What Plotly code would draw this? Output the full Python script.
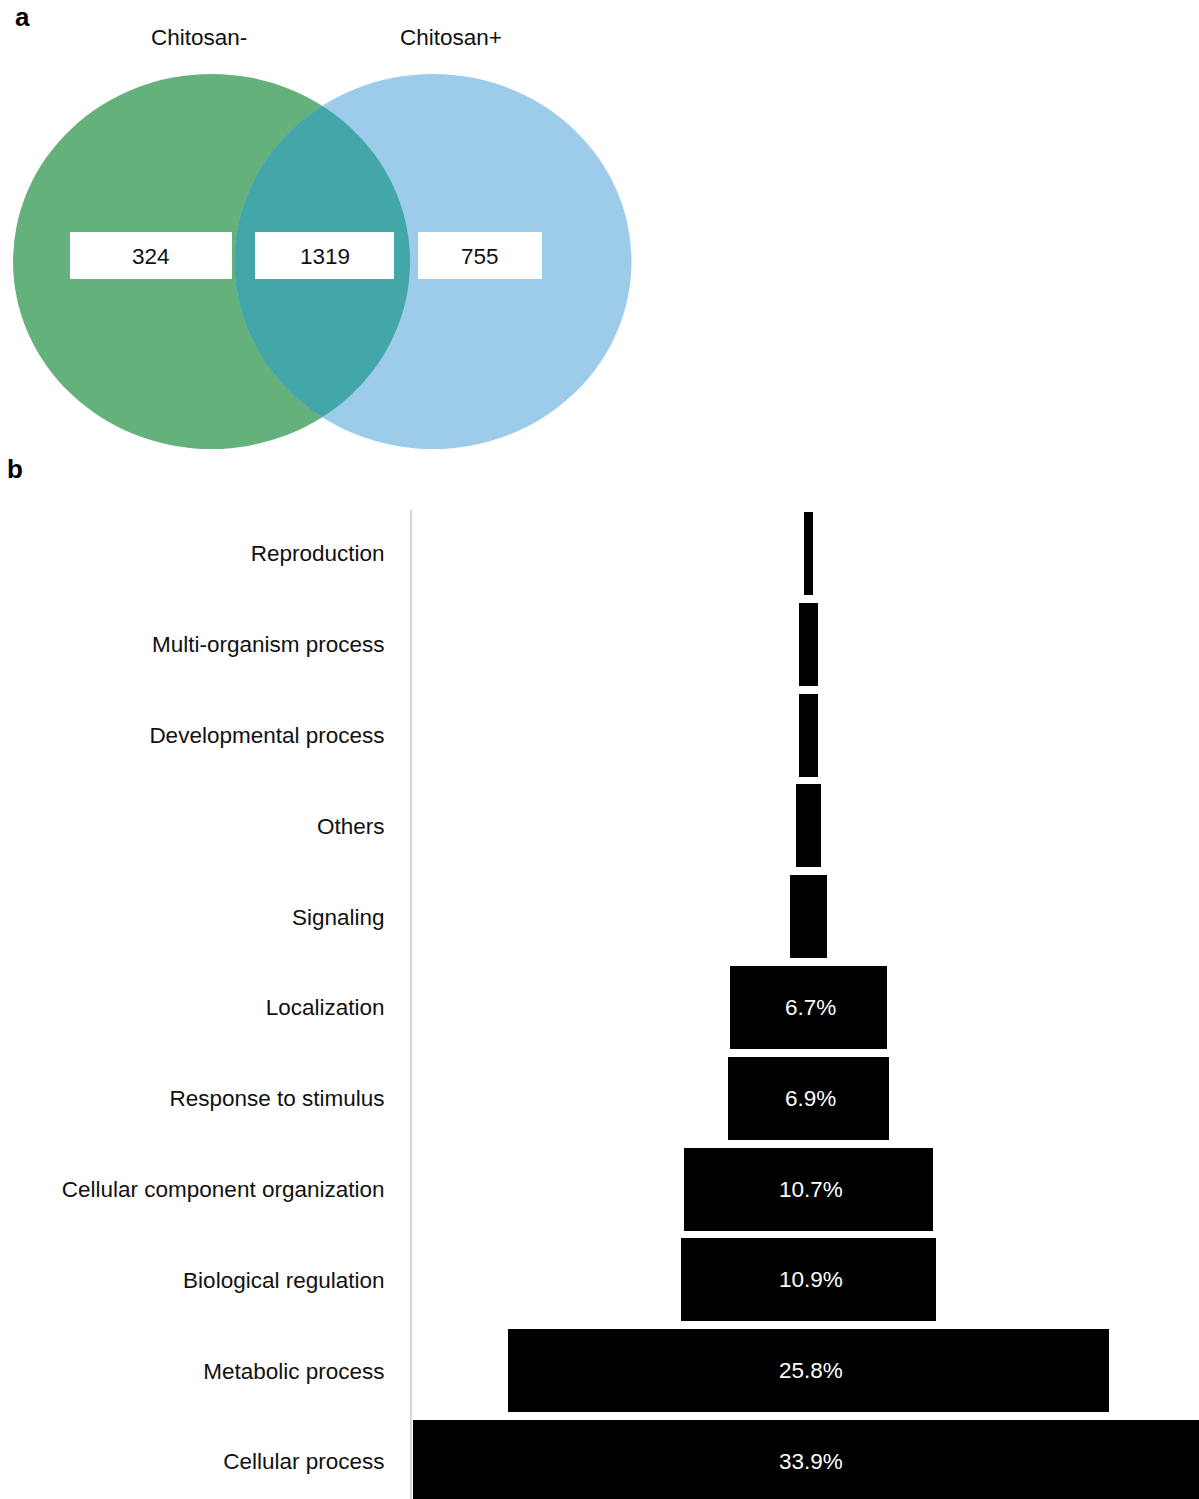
import numpy as np
import plotly.graph_objects as go

# ---- Panel a: Venn counts ----
set_names = ["Chitosan-", "Chitosan+"]
venn_counts = [324, 1319, 755]  # only Chitosan-, shared, only Chitosan+

# ---- Panel b: GO biological process distribution (%) ----
categories = [
    "Reproduction",
    "Multi-organism process",
    "Developmental process",
    "Others",
    "Signaling",
    "Localization",
    "Response to stimulus",
    "Cellular component organization",
    "Biological regulation",
    "Metabolic process",
    "Cellular process",
]
percent = [0.37, 0.8, 0.8, 1.1, 1.6, 6.7, 6.9, 10.7, 10.9, 25.8, 33.9]
label_min = 5.0  # bars at or above this share get a value label

W, H = 1199, 1499
FONT = "Liberation Sans, Arial, Helvetica, sans-serif"
FS = 22.5
GREEN, BLUE, TEAL = "#64b17b", "#9dcbea", "#43a6a9"

fig = go.Figure()

# centred (funnel-style) horizontal bars
fig.add_trace(go.Bar(
    y=categories,
    x=percent,
    base=[-v / 2 for v in percent],
    orientation="h",
    width=0.914,
    marker=dict(color="#000000", line=dict(width=0)),
    hoverinfo="skip",
    showlegend=False,
    xaxis="x", yaxis="y",
))

annotations = []
for cat, v in zip(categories, percent):
    if v >= label_min:
        annotations.append(dict(
            x=0.1, y=cat, xref="x", yref="y", text=f"{v}%", showarrow=False,
            font=dict(family=FONT, size=FS, color="#ffffff"),
            xanchor="center", yanchor="middle",
        ))

# ---- Venn geometry (pixel-space overlay axis) ----
cy, rx, ry = 261.5, 198.5, 187.5
cx_left, cx_right = 211.5, 433.0

shapes = [
    dict(type="circle", xref="x2", yref="y2", x0=cx_left - rx, x1=cx_left + rx,
         y0=cy - ry, y1=cy + ry, fillcolor=GREEN, line=dict(width=0)),
    dict(type="circle", xref="x2", yref="y2", x0=cx_right - rx, x1=cx_right + rx,
         y0=cy - ry, y1=cy + ry, fillcolor=BLUE, line=dict(width=0)),
]

# overlap lens: right arc of the left ellipse + left arc of the right ellipse
xm = (cx_left + cx_right) / 2
phi = np.arccos((xm - cx_left) / rx)
t1 = np.linspace(-phi, phi, 80)
arc1_x = cx_left + rx * np.cos(t1)
arc1_y = cy + ry * np.sin(t1)
t2 = np.linspace(np.pi - phi, np.pi + phi, 80)
arc2_x = cx_right + rx * np.cos(t2)
arc2_y = cy + ry * np.sin(t2)
pts = list(zip(arc1_x, arc1_y)) + list(zip(arc2_x, arc2_y))
path = "M " + " L ".join(f"{x:.2f},{y:.2f}" for x, y in pts) + " Z"
shapes.append(dict(type="path", xref="x2", yref="y2", path=path,
                   fillcolor=TEAL, line=dict(width=0)))

# white count boxes
box_x = [(70, 232), (255, 394), (418, 542)]
for (x0, x1), n in zip(box_x, venn_counts):
    shapes.append(dict(type="rect", xref="x2", yref="y2", x0=x0, x1=x1, y0=232, y1=279,
                       fillcolor="#ffffff", line=dict(width=0)))
    annotations.append(dict(x=(x0 + x1) / 2, y=256, xref="x2", yref="y2", text=str(n),
                            showarrow=False, font=dict(family=FONT, size=FS, color="#111111"),
                            xanchor="center", yanchor="middle"))

for name, xc in zip(set_names, [199, 451]):
    annotations.append(dict(x=xc, y=37, xref="x2", yref="y2", text=name, showarrow=False,
                            font=dict(family=FONT, size=FS, color="#111111"),
                            xanchor="center", yanchor="middle"))

# panel letters
for letter, (px, py) in zip(["a", "b"], [(22, 17), (15, 469)]):
    annotations.append(dict(x=px, y=py, xref="x2", yref="y2", text=f"<b>{letter}</b>",
                            showarrow=False, font=dict(family=FONT, size=26, color="#000000"),
                            xanchor="center", yanchor="middle"))

# bar axes: centre of the funnel sits at x = 0
px_per_pct = 23.33
x_center_px = 808.5
ax_left_px = 412
xr = [-(x_center_px - ax_left_px) / px_per_pct, (W - x_center_px) / px_per_pct]
row_pitch, first_row_px, top_px = 90.8, 553.5, 510
yr = [(H - first_row_px) / row_pitch, -(first_row_px - top_px) / row_pitch]

fig.update_layout(
    width=W, height=H,
    margin=dict(l=0, r=0, t=0, b=0),
    paper_bgcolor="#ffffff", plot_bgcolor="rgba(0,0,0,0)",
    font=dict(family=FONT, size=FS, color="#111111"),
    showlegend=False,
    bargap=0,
    xaxis=dict(domain=[ax_left_px / W, 1], range=xr, visible=False, fixedrange=True),
    yaxis=dict(
        domain=[0, 1 - top_px / H], range=yr, type="category",
        categoryorder="array", categoryarray=categories,
        showline=True, linecolor="#d4d4d4", linewidth=2,
        showgrid=False, zeroline=False, ticks="",
        ticklabelstandoff=21,
        tickfont=dict(family=FONT, size=FS, color="#111111"),
        fixedrange=True,
    ),
    xaxis2=dict(domain=[0, 1], range=[0, W], visible=False, anchor="y2", fixedrange=True),
    yaxis2=dict(domain=[0, 1], range=[H, 0], visible=False, anchor="x2", fixedrange=True),
    shapes=shapes,
    annotations=annotations,
)

fig.write_html("out.html")
